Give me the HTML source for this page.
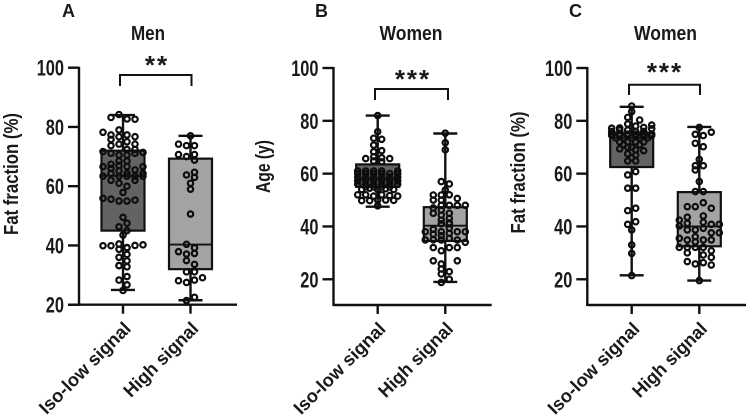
<!DOCTYPE html>
<html lang="en">
<head>
<meta charset="utf-8">
<title>Fat fraction and age by signal group</title>
<style>
html,body{margin:0;padding:0;background:#fff;width:748px;height:416px;overflow:hidden}
svg{display:block}
text{font-family:"Liberation Sans",Arial,sans-serif;fill:#1a1a1a}
</style>
</head>
<body>
<svg id="chart" width="748" height="416" viewBox="0 0 748 416" xmlns="http://www.w3.org/2000/svg"></svg>
<script>
const tickLabels = [100, 80, 60, 40, 20];
const categories = ['Iso-low signal', 'High signal'];

/* Box summaries: [whiskerLow, q1, median, q3, whiskerHigh] */
const menIsoBox = [25, 45, 63.5, 72, 84];
const menHighBox = [21.5, 32, 40.3, 69.3, 77];
const ageIsoBox = [47.5, 55, 58, 63.5, 82];
const ageHighBox = [19, 34.5, 40.3, 47.3, 75.2];
const fatIsoBox = [21.5, 62.5, 73.5, 75.5, 85.3];
const fatHighBox = [19.5, 32.5, 40, 53, 77.7];

/* Swarm rows of observed values, left to right; null leaves a slot empty */
const menIso = [
 [83.2,84.2,82.7,82.6],
 [78.2,77.3,79,77.3,76.7,null],
 [75.8,76.7,75,74.2],
 [73.7,74.2,72.4,72.4],
 [71.7,71.1,70.5,70.5,71.1,71.4],
 [67.4,68.5,68.5,null],
 [66.6,66,67,66.6,65.5,66.6],
 [63.4,64.3,65.2,64.3,63.4,64.3],
 [null,62,63.4,63.4,62,63.4],
 [null,null,61,60,null,null],
 [57.9],
 [55.9,55.6,55,55,55.3,null],
 [49.5],
 [46.3,47.5],
 [null,45],
 [43.5],
 [39.9,39.9,40.5,39.3,40,40.2],
 [38.7,39.2],
 [36,37],
 [33.2,34.8],
 [33.2,32.8],
 [28.3,29.5],
 [null,26.7],
 [24.8]
];
const menHigh = [
 [77],
 [74.2,73.7,73.7,null],
 [70.7,70,70.7,null],
 [null,null,68.8,null],
 [null,63.8,64.7,null],
 [null,63],
 [61],
 [59],
 [50.6],
 [null,40.4,39.2,null],
 [37.9,37.1,37.3,null],
 [null,34.9,33.6,null],
 [null,31.1,31.1,null],
 [28.1,27.5,28.3,29.1],
 [21.4,22.5]
];
const ageIso = [
 [82],
 [75.9],
 [73.4,73],
 [70.8,null],
 [68.3,68.7],
 [65.7,66.4,66,65.7],
 [64.8,64.5],
 [61,61,61,61,null,61],
 [60,60,60,60,60,60],
 [58.7,58.7,58.7,58.7,58.7,58.7],
 [57.3,57.3,57.3,57.3,57.3,57.3],
 [56,56,56,56,56,56],
 [55,55,55,55],
 [54,54.5,54,54.3,54],
 [52,52,51.5,52,51.7,51.5],
 [49.8,49.8,50,50,49.9],
 [47.8]
];
const ageHigh = [
 [75.3],
 [71.7],
 [69],
 [57,56.1],
 [53.8],
 [null,51.9,51.9,52,50.6,null],
 [null,50,50,null,null,null],
 [null,47,48,48,48,48],
 [null,45,46.2,45,null,null],
 [null,null,44.3,43,null,null],
 [null,null,42.4,41.4,null,null],
 [null,null,41,41,null,null],
 [38,38.9,38,39.3,38,38],
 [null,37.1,36.5,37.4,null,null],
 [34.9,35,34.9,35.5,34.9,34],
 [null,32,30.8,32,32,null],
 [null,27,null,null,27,null],
 [25.8,null],
 [23.9,22.9],
 [22,null],
 [null,20],
 [18.8,null]
];
const fatIso = [
 [85.6],
 [83.5],
 [81.3,null],
 [null,null,80.3],
 [77.2,77.3,78.8,78,77.5,78.4],
 [76,76.5,76.5,76,76,77],
 [75,75,75,75,75,75],
 [74.5,74.5,74.5,74.5,74.5,74.5],
 [73.5,73.5,73.5,73.5,73.5],
 [72,72,72,72],
 [71,70,71],
 [69.4,70,69,68.7],
 [67.5,67],
 [66],
 [64.8,64.8],
 [59.5,60.8],
 [54.5,54.5],
 [46,46.9],
 [40.8,41.8],
 [38.7],
 [33],
 [29.8],
 [21.4]
];
const fatHigh = [
 [77.5],
 [null,74.9,74.4,75.7],
 [71.5,70.2],
 [65.4],
 [63,63],
 [61.4,null],
 [57],
 [53.2,53.2],
 [null,47.5,47.5,49,46.9,null],
 [null,43.5,null,44,null,null],
 [42.4,41.2,null,41.6,40.8,40.8],
 [40.2,null,null,null,null,null],
 [null,38.7,38.7,39.3,37.6,37.6],
 [35.5,34.9,36.1,34.9,34.9,null],
 [null,null,34.2,null,null,null],
 [32.1,32.1,32.1,32.1,30.8,null],
 [null,30,null,29.2,28.3,null],
 [null,26.7,25.8,26.3,25.4,null],
 [19.5]
];

const panels = [
 {key:'a', letter:'A', title:'Men', yTitle:'Fat fraction (%)', stars:'**', axisX:79, top:67.7, k:2.9625, floor:304.7, right:237,
  cx:[123,190.5], boxes:[menIsoBox,menHighBox], swarms:[menIso,menHigh], fills:['#636363','#a3a3a3'],
  bracket:[120,191.5,75,86], letterX:68.5, titleX:148, titleW:34, yTitleBase:18, yTitleY:174, yTitleW:122, starX:157, starY:74, yWeight:'bold'},
 {key:'b', letter:'B', title:'Women', yTitle:'Age (y)', stars:'***', axisX:333.5, top:68, k:2.641, floor:305, right:491.7,
  cx:[377.7,445.3], boxes:[ageIsoBox,ageHighBox], swarms:[ageIso,ageHigh], fills:['#636363','#a3a3a3'],
  bracket:[375,448,89,100], letterX:321.5, titleX:411, titleW:63, yTitleBase:270, yTitleY:166.5, yTitleW:53, starX:413, starY:88, yWeight:'bold'},
 {key:'c', letter:'C', title:'Women', yTitle:'Fat fraction (%)', stars:'***', axisX:587.3, top:68, k:2.641, floor:305, right:746,
  cx:[631.7,699.3], boxes:[fatIsoBox,fatHighBox], swarms:[fatIso,fatHigh], fills:['#636363','#a3a3a3'],
  bracket:[629,700,84.7,95], letterX:575.5, titleX:665.5, titleW:63, yTitleBase:525, yTitleY:172.5, yTitleW:122, starX:665, starY:81, yWeight:'bold'}
];

const SVGNS = 'http://www.w3.org/2000/svg';
const root = document.getElementById('chart');
function make(parent, tag, attrs, content) {
  const node = document.createElementNS(SVGNS, tag);
  for (const a in attrs) node.setAttribute(a, attrs[a]);
  if (content !== undefined) node.textContent = content;
  parent.appendChild(node);
  return node;
}
function line(parent, x1, y1, x2, y2, w) {
  return make(parent, 'line', {x1:x1, y1:y1, x2:x2, y2:y2, stroke:'#111', 'stroke-width':w || 2});
}

panels.forEach(function (p) {
  const y = function (v) { return p.top + (100 - v) * p.k; };
  const group = make(root, 'g', {});
  
  

  const letter = make(group, 'text', {x:p.letterX, y:17, 'text-anchor':'middle', 'font-size':18, 'font-weight':'bold'}, p.letter);
  
  

  const title = make(group, 'text', {x:p.titleX, y:40, 'text-anchor':'middle', 'font-size':20, 'font-weight':'bold', textLength:p.titleW, lengthAdjust:'spacingAndGlyphs'}, p.title);
  
  

  const yTitle = make(group, 'text', {transform:'translate(' + p.yTitleBase + ' ' + p.yTitleY + ') rotate(-90)', 'text-anchor':'middle', 'font-size':20.5, 'font-weight':p.yWeight, textLength:p.yTitleW, lengthAdjust:'spacingAndGlyphs'}, p.yTitle);
  
  

  /* boxes and whiskers */
  p.boxes.forEach(function (b, i) {
    const c = p.cx[i];
    const box = make(group, 'g', {});
    
    
    line(box, c, y(b[4]), c, y(b[0]), 2.4);
    line(box, c - 12, y(b[4]), c + 12, y(b[4]), 2.4);
    line(box, c - 12, y(b[0]), c + 12, y(b[0]), 2.4);
    make(box, 'rect', {x:c - 21.5, y:y(b[3]), width:43, height:y(b[1]) - y(b[3]), fill:p.fills[i], stroke:'#111', 'stroke-width':2.2});
    line(box, c - 21.5, y(b[2]), c + 21.5, y(b[2]), 1.8);
  });

  /* swarm points */
  p.swarms.forEach(function (rows, i) {
    const swarm = make(group, 'g', {});
    
    
    rows.forEach(function (row) {
      row.forEach(function (v, j) {
        if (v === null) return;
        const off = (j - (row.length - 1) / 2) * 8;
        const dot = make(swarm, 'circle', {cx:p.cx[i] + off, cy:y(v), r:2.7, fill:'none', stroke:'#0d0d0d', 'stroke-width':2.2});
        
        
      });
    });
  });

  /* axes */
  const axes = make(group, 'g', {});
  
  
  line(axes, p.axisX, p.top - 1, p.axisX, p.floor + 1, 2.4);
  line(axes, p.axisX - (p.key === 'a' ? 11 : 0), p.floor, p.right, p.floor, 2.4);

  tickLabels.forEach(function (t) {
    line(axes, p.axisX - 11, y(t), p.axisX, y(t), 2.4);
    const width = String(t).length * 9.1;
    const label = make(axes, 'text', {x:p.axisX - 15 - width / 2, y:y(t) + 8, 'text-anchor':'middle', 'font-size':22.5, 'font-weight':'bold', textLength:width, lengthAdjust:'spacingAndGlyphs'}, String(t));
    
    
  });

  categories.forEach(function (name, i) {
    const c = p.cx[i];
    line(axes, c, p.floor, c, p.floor + 9, 2.4);
    const label = make(axes, 'text', {transform:'translate(' + (c + 9) + ' ' + (p.floor + 25) + ') rotate(-45)', 'text-anchor':'end', 'font-size':18.5, 'font-weight':'bold', textLength:i === 0 ? 121 : 97, lengthAdjust:'spacingAndGlyphs'}, name);
    
    
  });

  /* significance bracket */
  const br = p.bracket;
  const bracket = make(group, 'path', {d:'M' + br[0] + ' ' + br[3] + 'V' + br[2] + 'H' + br[1] + 'V' + br[3], fill:'none', stroke:'#111', 'stroke-width':2});
  
  
  const stars = make(group, 'text', {x:p.starX, y:p.starY, 'text-anchor':'middle', 'font-size':26, 'font-weight':'bold', 'letter-spacing':'2px'}, p.stars);
  
  
});
</script>
</body>
</html>
